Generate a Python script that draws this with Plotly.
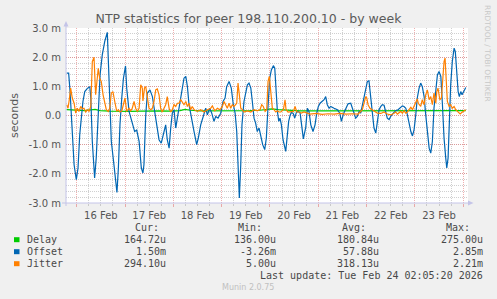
import pandas as pd
import plotly.graph_objects as go

# heures depuis le 16 Feb 00:00, valeurs en millisecondes
base = pd.Timestamp("2026-02-16 00:00")

delay_h = [-5.0, -0.8, 4.1, 9.1, 11.6, 16.5, 21.5, 26.5, 31.5, 36.4,
           41.4, 46.4, 51.3, 53.8, 56.3, 61.3, 66.3, 71.2, 76.2, 81.2,
           86.1, 91.1, 95.1, 97.0, 100.1, 106.0, 111.0, 120.9, 130.8, 140.8,
           150.7, 160.7, 170.6, 180.5, 193.3]
delay_v = [0.2, 0.19, 0.17, 0.21, 0.17, 0.15, 0.14, 0.14, 0.15, 0.16,
           0.16, 0.15, 0.17, 0.21, 0.18, 0.16, 0.16, 0.15, 0.15, 0.16,
           0.17, 0.18, 0.21, 0.23, 0.2, 0.17, 0.16, 0.16, 0.16, 0.17,
           0.16, 0.16, 0.17, 0.16, 0.165]

offset_h = [-5.0, -4.0, -3.3, -2.3, -1.3, -0.2, 0.65, 1.5, 2.3, 3.1,
            4.0, 5.3, 6.5, 7.0, 7.75, 8.9, 9.7, 10.6, 11.6, 12.7,
            13.9, 15.2, 15.55, 16.4, 17.2, 18.5, 20.0, 20.7, 21.5, 22.4,
            23.2, 24.25, 24.85, 26.0, 27.6, 28.8, 29.8, 31.0, 32.1, 32.9,
            33.4, 34.3, 35.1, 36.4, 37.6, 38.4, 39.6, 40.9, 42.0, 43.0,
            44.2, 45.0, 45.9, 46.7, 47.5, 48.35, 49.2, 50.0, 51.2, 52.2,
            53.3, 54.2, 55.0, 55.8, 56.9, 58.3, 59.6, 60.4, 61.6, 62.9,
            64.1, 64.9, 66.1, 67.1, 68.2, 69.1, 70.2, 71.55, 72.7, 73.7,
            74.5, 75.7, 76.8, 77.8, 78.7, 79.5, 80.15, 80.8, 81.5, 82.1,
            83.1, 84.0, 84.8, 85.6, 86.5, 87.25, 88.1, 88.9, 89.7, 90.6,
            91.4, 92.4, 93.4, 94.2, 95.1, 95.9, 96.7, 97.7, 98.4, 99.0,
            99.7, 100.4, 101.0, 101.7, 102.5, 103.85, 104.65, 105.3, 106.0, 106.6,
            107.5, 108.3, 109.1, 110.0, 111.0, 111.8, 112.6, 113.8, 114.6, 115.4,
            116.3, 117.4, 118.4, 119.25, 120.05, 120.9, 122.0, 122.9, 123.7, 124.5,
            125.4, 126.2, 127.85, 129.5, 130.7, 131.5, 132.5, 133.7, 134.8, 136.15,
            136.9, 137.8, 138.6, 139.4, 140.3, 141.1, 142.4, 143.6, 144.4, 145.2,
            146.1, 146.9, 147.7, 148.6, 149.4, 150.2, 151.1, 151.85, 152.7, 153.5,
            154.3, 155.2, 156.0, 157.3, 158.5, 159.65, 160.65, 161.8, 162.6, 163.5,
            164.3, 165.1, 166.0, 166.8, 167.6, 168.45, 169.2, 170.1, 170.9, 171.7,
            172.6, 173.4, 174.2, 175.1, 175.9, 176.7, 177.5, 178.4, 179.2, 180.0,
            180.9, 181.7, 182.5, 183.35, 183.85, 184.5, 185.1, 185.8, 186.6, 187.5,
            188.1, 188.8, 189.5, 190.1, 190.8, 191.45, 192.1, 192.8, 193.3]
offset_v = [1.45, 1.45, 0.82, -0.66, -1.69, -2.2, -1.8, -0.66, 0.01, 0.48,
            0.82, 0.93, 0.99, 0.6, -0.89, -2.14, -1.46, -0.1, 1.39, 2.08,
            2.53, 2.85, 2.2, 0.27, -0.89, -1.69, -2.64, -1.8, -0.3, 0.62,
            1.27, 1.7, 0.93, 0.14, -0.3, -0.55, -0.5, -0.89, -1.8, -1.97,
            -1.69, 0.02, 0.77, 0.88, 0.65, 0.25, -0.32, -0.83, -0.95, -0.66,
            -0.32, -0.83, -1.12, -0.43, 0.08, 0.2, -0.43, -0.09, 0.42, 0.71,
            1.28, 1.34, 0.99, 0.37, -0.09, -0.55, -1.0, -0.78, -0.32, 0.02,
            0.25, 0.02, 0.25, 0.08, -0.2, -0.03, -0.09, 0.08, 0.48, 0.6,
            0.99, 1.17, 0.94, 0.37, 0.08, -0.55, -1.69, -2.83, -1.69, -0.32,
            0.48, 0.77, 1.05, 1.11, 0.94, 0.48, -0.09, -0.26, -0.55, -0.43,
            -0.72, -1.0, -1.17, -0.78, 0.37, 1.28, 1.56, 1.71, 1.62, 0.82,
            0.14, -0.2, -0.09, -0.32, -0.83, -1.23, -0.5, -0.2, 0.0, 0.1,
            0.08, -0.09, 0.1, 0.14, 0.08, -0.32, -0.8, -0.4, 0.25, 0.14,
            -0.32, -0.55, -0.32, 0.08, 0.31, 0.42, 0.48, 0.54, 0.65, 0.37,
            0.25, 0.31, 0.25, 0.2, 0.08, -0.2, 0.05, 0.25, 0.4, 0.42,
            0.25, 0.08, -0.09, -0.03, 0.14, 0.08, 0.54, 0.99, 1.17, 1.19,
            0.6, -0.09, -0.43, -0.6, -0.26, 0.2, 0.31, 0.37, 0.35, 0.14,
            -0.09, -0.14, -0.03, 0.08, 0.16, 0.2, 0.25, 0.33, 0.31, 0.25,
            0.02, -0.32, -0.55, -0.7, -0.49, 0.02, 0.6, 0.94, 1.11, 0.99,
            0.65, 0.02, -0.55, -1.12, -1.29, -0.89, 0.25, 0.94, 1.39, 1.51,
            1.34, 0.37, -0.78, -1.46, -1.8, -1.46, -0.09, 1.05, 1.85, 2.31,
            2.19, 1.51, 0.82, 0.65, 0.82, 0.71, 0.82, 0.94, 0.96]

jitter_h = [-5.0, -4.3, -3.7, -3.0, -2.2, -1.3, -0.5, 0.3, 1.1, 2.0,
            2.8, 3.6, 4.5, 5.3, 6.1, 7.0, 7.75, 8.6, 9.4, 10.2,
            10.7, 11.4, 12.2, 13.1, 13.9, 14.7, 15.7, 16.4, 17.2, 18.0,
            18.9, 19.9, 20.7, 21.5, 22.4, 23.2, 24.0, 24.8, 26.0, 26.8,
            27.6, 28.5, 29.3, 30.1, 31.0, 31.8, 32.6, 32.9, 33.7, 34.3,
            35.1, 35.9, 36.8, 37.6, 38.4, 39.25, 40.05, 40.9, 41.7, 42.5,
            43.4, 44.2, 45.0, 45.9, 46.7, 47.5, 48.35, 49.2, 50.0, 50.8,
            51.7, 52.5, 53.3, 54.2, 55.0, 55.8, 56.65, 57.4, 58.3, 59.9,
            61.6, 63.25, 64.9, 66.6, 67.4, 68.6, 69.9, 71.2, 72.35, 73.2,
            74.0, 74.8, 75.7, 76.5, 77.3, 78.2, 79.5, 80.15, 80.8, 81.5,
            82.3, 83.1, 84.8, 86.5, 88.1, 89.7, 91.1, 91.9, 92.7, 93.6,
            94.4, 95.06, 95.7, 96.4, 97.2, 98.0, 98.9, 99.7, 100.5, 101.4,
            102.7, 103.5, 104.0, 105.0, 106.3, 107.6, 108.5, 109.3, 110.5, 111.6,
            112.9, 115.9, 118.9, 121.9, 124.9, 127.85, 130.8, 133.8, 136.8, 139.8,
            141.9, 142.8, 143.6, 144.1, 144.75, 145.7, 146.9, 148.1, 149.4, 151.1,
            152.7, 154.3, 156.0, 157.7, 158.5, 159.3, 161.0, 161.8, 162.6, 163.5,
            164.3, 165.1, 166.0, 166.8, 167.6, 168.45, 169.2, 169.7, 170.4, 170.9,
            171.7, 172.6, 173.4, 174.2, 175.1, 175.9, 176.7, 177.5, 178.4, 178.9,
            179.5, 180.4, 181.2, 181.9, 182.5, 183.0, 183.5, 184.15, 185.0, 185.8,
            186.6, 187.5, 188.3, 189.5, 190.5, 191.6, 192.45, 193.3]
jitter_v = [0.37, 0.25, 0.54, 0.94, 0.6, 0.42, 0.08, 0.25, 0.14, 0.31,
            0.23, 0.25, 0.12, 0.2, 0.14, 0.31, 1.85, 2.0, 0.71, 1.17,
            1.62, 1.28, 1.17, 0.71, 0.48, 0.2, 0.14, 0.25, 0.77, 0.82,
            0.48, 0.14, 0.2, 0.12, 0.16, 0.37, 0.6, 0.14, 0.25, 0.16,
            0.25, 0.48, 0.25, 0.14, 0.25, 1.05, 0.94, 0.5, 0.95, 0.99,
            0.6, 0.25, 0.2, 0.25, 0.48, 0.88, 0.91, 0.71, 0.25, 0.12,
            0.25, 0.37, 0.65, 0.25, 0.12, 0.2, 0.37, 0.31, 0.42, 0.42,
            0.54, 0.45, 0.37, 0.48, 0.31, 0.42, 0.2, 0.31, 0.2, 0.14,
            0.2, 0.12, 0.2, 0.25, 0.33, 0.16, 0.25, 0.2, 0.31, 0.48,
            0.37, 0.25, 0.42, 0.25, 0.37, 0.31, 0.42, 1.11, 0.71, 0.25,
            0.2, 0.12, 0.16, 0.12, 0.2, 0.16, 0.2, 0.37, 0.31, 0.14,
            0.2, 1.17, 1.34, 0.82, 0.25, 0.2, 0.12, 0.16, 0.12, 0.12,
            0.2, 0.54, 0.2, 0.12, 0.12, 0.14, 0.31, 0.12, 0.12, 0.08,
            0.12, 0.05, 0.07, 0.04, 0.06, 0.05, 0.07, 0.05, 0.06, 0.05,
            0.2, 0.42, 0.65, 0.6, 0.37, 0.25, 0.2, 0.12, 0.08, 0.07,
            0.12, 0.05, 0.02, 0.08, 0.12, 0.05, 0.14, 0.08, 0.16, 0.08,
            0.12, 0.2, 0.28, 0.2, 0.31, 0.42, 0.57, 0.42, 0.37, 0.31,
            0.54, 0.37, 0.71, 0.88, 0.54, 0.65, 0.37, 0.77, 0.42, 0.82,
            0.94, 0.54, 0.6, 1.51, 1.85, 1.97, 1.39, 0.48, 0.31, 0.37,
            0.25, 0.31, 0.2, 0.12, 0.05, 0.12, 0.16, 0.2]

ytick_vals = [-3, -2, -1, 0, 1, 2, 3]
ytick_text = ["-3.0 m", "-2.0 m", "-1.0 m", "0.0", "1.0 m", "2.0 m", "3.0 m"]

legend_names = ["Delay", "Offset", "Jitter"]
legend_colors = ["#00CC00", "#0066B3", "#FF8000"]
stats_cur = ["164.72u", "1.50m", "294.10u"]
stats_min = ["136.00u", "-3.26m", "5.00u"]
stats_avg = ["180.84u", "57.88u", "318.13u"]
stats_max = ["275.00u", "2.85m", "2.21m"]


def to_time(hours):
    return base + pd.to_timedelta(hours, unit="h")


# zone du graphique en pixels
L, R, T, B = 66, 468, 28, 203
W, H = 497, 299


def px(x):
    return (x - L) / (R - L)


def py(y):
    return (B - y) / (B - T)


fig = go.Figure()
for name, hrs, vals, col in [("Delay", delay_h, delay_v, legend_colors[0]),
                             ("Offset", offset_h, offset_v, legend_colors[1]),
                             ("Jitter", jitter_h, jitter_v, legend_colors[2])]:
    fig.add_trace(go.Scatter(x=to_time(hrs), y=vals, mode="lines", name=name,
                             line=dict(color=col, width=1.2), showlegend=False))

grey = "#555555"
major = "rgba(225,110,110,0.55)"
minor = "rgba(170,170,170,0.55)"

fig.update_layout(
    width=W, height=H,
    margin=dict(l=L, r=W - R, t=T, b=H - B, autoexpand=False),
    paper_bgcolor="#F0F0F0", plot_bgcolor="white",
    font=dict(family="DejaVu Sans", size=10, color=grey),
    title=dict(text="NTP statistics for peer 198.110.200.10 - by week",
               x=0.5, xanchor="center", y=1 - 19 / H, yanchor="middle",
               yref="container", font=dict(size=12.5, color="#5A5A5A")),
)

fig.update_xaxes(
    type="date", range=[to_time(-5.32), to_time(194.4)],
    dtick=86400000, tick0="2026-02-16", tickformat="%d %b",
    ticklabelmode="period", showgrid=True, gridcolor=major, griddash="1px,1px",
    ticks="outside", ticklen=3, tickcolor=major, showline=False, zeroline=False,
    tickfont=dict(size=10, color=grey),
    minor=dict(dtick=6 * 3600000, showgrid=True, gridcolor=minor, griddash="1px,1px",
               ticks="outside", ticklen=2, tickcolor=minor),
)
fig.update_yaxes(
    range=[-3, 3], tickvals=ytick_vals, ticktext=ytick_text,
    showgrid=True, gridcolor=major, griddash="1px,1px", zeroline=False,
    showline=False, ticks="", ticklabelstandoff=4,
    tickfont=dict(size=10, color=grey),
    title=dict(text="seconds", font=dict(size=11, color=grey), standoff=7),
    minor=dict(dtick=0.2, showgrid=True, gridcolor=minor, griddash="1px,1px"),
)

# axes avec flèches
axis_col = "#C4C4E8"
fig.add_shape(type="line", xref="paper", yref="paper", x0=px(L), x1=px(L),
              y0=py(206), y1=py(23), line=dict(color=axis_col, width=1))
fig.add_shape(type="line", xref="paper", yref="paper", x0=px(62), x1=px(470),
              y0=py(B), y1=py(B), line=dict(color=axis_col, width=1))
fig.add_shape(type="path", xref="paper", yref="paper", fillcolor=axis_col, line_width=0,
              path=f"M {px(63.5)} {py(26.5)} L {px(68.5)} {py(26.5)} L {px(66)} {py(21)} Z")
fig.add_shape(type="path", xref="paper", yref="paper", fillcolor=axis_col, line_width=0,
              path=f"M {px(468)} {py(200.5)} L {px(468)} {py(205.5)} L {px(473.5)} {py(B)} Z")

mono = dict(family="DejaVu Sans Mono", size=10, color="#484848")


def text_at(x, y, s, anchor="right", font=mono):
    fig.add_annotation(x=px(x), y=py(y), xref="paper", yref="paper", text=s,
                       showarrow=False, xanchor=anchor, yanchor="middle", font=font,
                       borderpad=0)


# tableau de légende
cols_head = [(159.5, "Cur:"), (263, "Min:"), (366.5, "Avg:"), (470.5, "Max:")]
for x, s in cols_head:
    text_at(x, 227.7, s)

val_x = [167, 276.5, 380, 483.5]
for i, name in enumerate(legend_names):
    yy = 239.7 + 12 * i
    fig.add_shape(type="rect", xref="paper", yref="paper",
                  x0=px(14), x1=px(19.5), y0=py(yy - 2.5), y1=py(yy + 2.5),
                  fillcolor=legend_colors[i], line_width=0)
    text_at(26, yy, name, anchor="left")
    for x, s in zip(val_x, [stats_cur[i], stats_min[i], stats_avg[i], stats_max[i]]):
        text_at(x, yy, s)

text_at(483.5, 275.7, "Last update: Tue Feb 24 02:05:20 2026")
text_at(248, 287.7, "Munin 2.0.75", anchor="center",
        font=dict(family="DejaVu Sans", size=8, color="#C0C0C0"))

fig.add_annotation(x=px(488), y=py(53), xref="paper", yref="paper",
                   xanchor="center", yanchor="middle",
                   text="RRDTOOL / TOBI OETIKER", textangle=90, showarrow=False,
                   font=dict(family="DejaVu Sans", size=7.5, color="#C8C8C8"))

# la page par défaut a une marge de 8px autour du body
fig.write_html("out.html", config={"displayModeBar": False},
               post_script="document.body.style.margin='0';")
